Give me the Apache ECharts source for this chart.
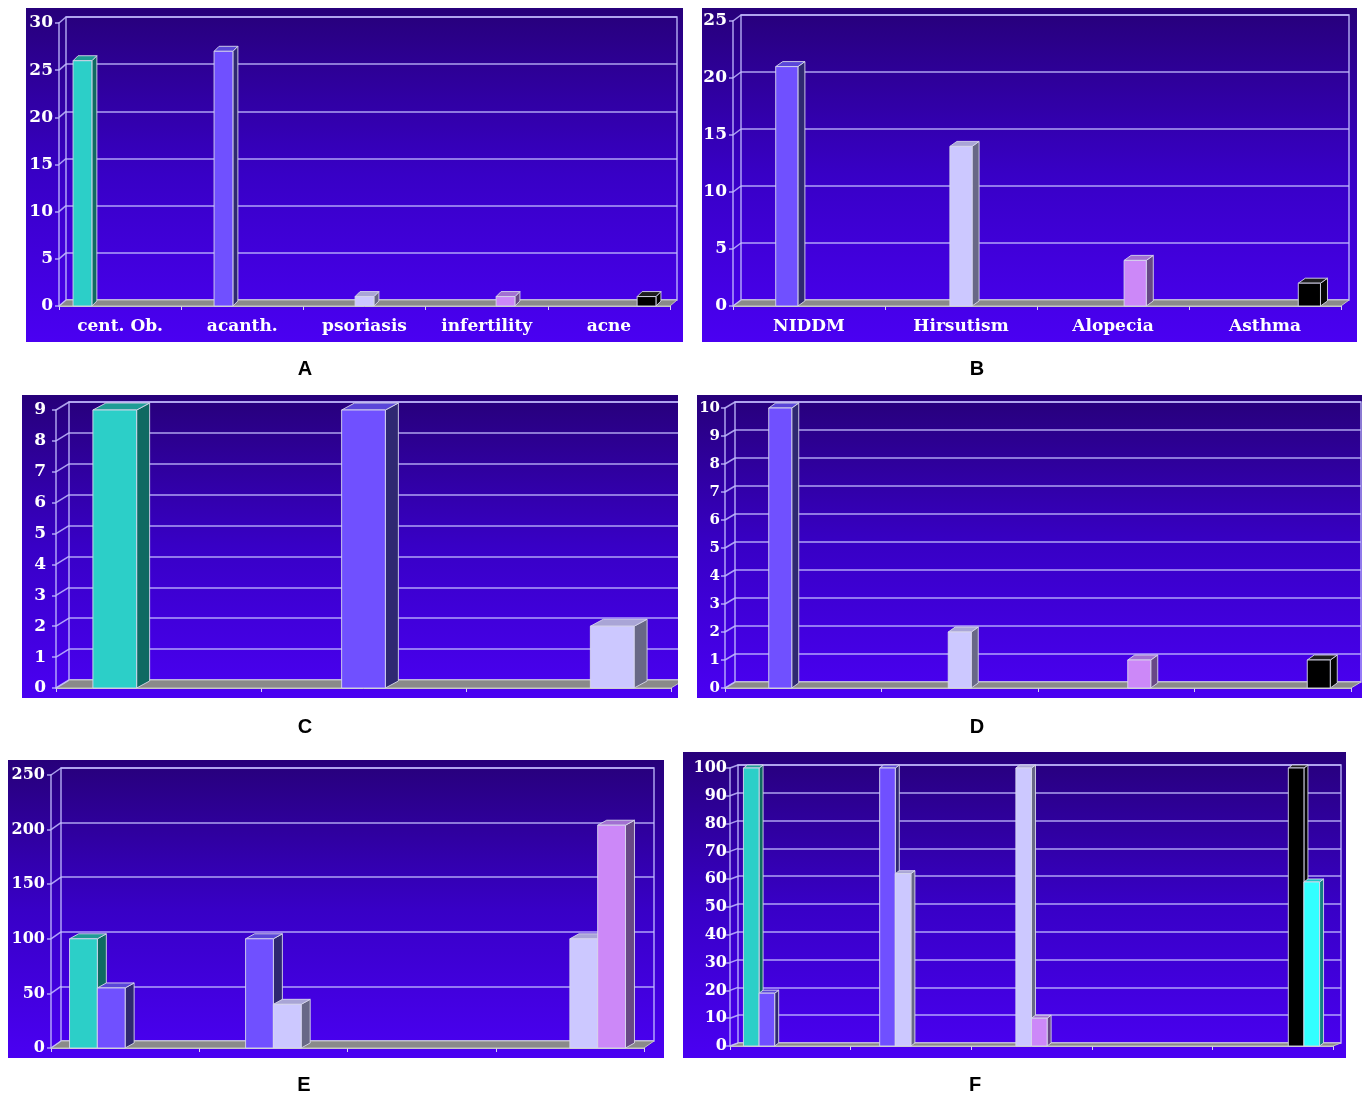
<!DOCTYPE html>
<html>
<head>
<meta charset="utf-8">
<style>
  html, body { margin: 0; padding: 0; background: #ffffff; }
  #chart { width: 1367px; height: 1098px; }
</style>
<script src="https://cdn.jsdelivr.net/npm/echarts@6/dist/echarts.min.js"></script>
</head>
<body>
<div id="chart"></div>
<script>
// ---------------- DATA ----------------
// Panel A
const catsA = ['cent. Ob.', 'acanth.', 'psoriasis', 'infertility', 'acne'];
const ticksA = [0, 5, 10, 15, 20, 25, 30];
const A_cyan     = [26, null, null, null, null];
const A_violet   = [null, 27, null, null, null];
const A_lavender = [null, null, 1, null, null];
const A_pink     = [null, null, null, 1, null];
const A_black    = [null, null, null, null, 1];

// Panel B
const catsB = ['NIDDM', 'Hirsutism', 'Alopecia', 'Asthma'];
const ticksB = [0, 5, 10, 15, 20, 25];
const B_cyan     = [null, null, null, null];
const B_violet   = [21, null, null, null];
const B_lavender = [null, 14, null, null];
const B_pink     = [null, null, 4, null];
const B_black    = [null, null, null, 2];

// Panel C
const catsC = ['', '', ''];
const ticksC = [0, 1, 2, 3, 4, 5, 6, 7, 8, 9];
const C_cyan     = [9, null, null];
const C_violet   = [null, 9, null];
const C_lavender = [null, null, 2];

// Panel D
const catsD = ['', '', '', ''];
const ticksD = [0, 1, 2, 3, 4, 5, 6, 7, 8, 9, 10];
const D_cyan     = [null, null, null, null];
const D_violet   = [10, null, null, null];
const D_lavender = [null, 2, null, null];
const D_pink     = [null, null, 1, null];
const D_black    = [null, null, null, 1];

// Panel E
const catsE = ['', '', '', ''];
const ticksE = [0, 50, 100, 150, 200, 250];
const E_cyan     = [100, null, null, null];
const E_violet   = [55, 100, null, null];
const E_lavender = [null, 40, null, 100];
const E_pink     = [null, null, null, 204];

// Panel F
const catsF = ['', '', '', '', ''];
const ticksF = [0, 10, 20, 30, 40, 50, 60, 70, 80, 90, 100];
const F_cyan     = [100, null, null, null, null];
const F_violet   = [19, 100, null, null, null];
const F_lavender = [null, 62, 100, null, null];
const F_pink     = [null, null, 10, null, null];
const F_black    = [null, null, null, null, 100];
const F_aqua     = [null, null, null, null, 59];

// ---------------- STYLE ----------------
const palette = {
  cyan:     { front: '#2ccfc8', side: '#0f6a62', top: '#1f9c95' },
  violet:   { front: '#7050ff', side: '#2f2872', top: '#5a46d8' },
  lavender: { front: '#ccc8ff', side: '#686886', top: '#a9a5d6' },
  pink:     { front: '#cc88f8', side: '#684886', top: '#a270d2' },
  black:    { front: '#000000', side: '#050505', top: '#1e1e1e' },
  aqua:     { front: '#32ffff', side: '#138282', top: '#22c4c4' }
};
const gridColor = 'rgba(196,190,255,0.85)';
const edgeColor = 'rgba(215,215,235,0.9)';
const labelFont = 'DejaVu Serif';

const panels = [
  { letter: 'A', cats: catsA, ticks: ticksA,
    series: [[A_cyan, 'cyan'], [A_violet, 'violet'], [A_lavender, 'lavender'], [A_pink, 'pink'], [A_black, 'black']],
    box: [26, 8, 657, 334], grid: [59, 23, 611, 283], depth: [7, -6], barDepth: [5, -5], gap: 0.23,
    ySize: 17, yMargin: 6, xLabels: true, letterPos: [305, 369] },
  { letter: 'B', cats: catsB, ticks: ticksB,
    series: [[B_cyan, 'cyan'], [B_violet, 'violet'], [B_lavender, 'lavender'], [B_pink, 'pink'], [B_black, 'black']],
    box: [702, 8, 655, 334], grid: [733, 21, 608, 285], depth: [8, -6], barDepth: [7, -5], gap: 0.27,
    ySize: 17, yMargin: 6, xLabels: true, letterPos: [977, 369] },
  { letter: 'C', cats: catsC, ticks: ticksC,
    series: [[C_cyan, 'cyan'], [C_violet, 'violet'], [C_lavender, 'lavender']],
    box: [22, 395, 656, 303], grid: [56, 410, 615, 278], depth: [13, -8], barDepth: [13, -7], gap: 0.36,
    ySize: 17, yMargin: 10, xLabels: false, letterPos: [305, 727], mask: [678, 390, 18, 312] },
  { letter: 'D', cats: catsD, ticks: ticksD,
    series: [[D_cyan, 'cyan'], [D_violet, 'violet'], [D_lavender, 'lavender'], [D_pink, 'pink'], [D_black, 'black']],
    box: [697, 395, 665, 303], grid: [725, 408, 626, 280], depth: [10, -6], barDepth: [7, -5], gap: 0.265,
    ySize: 15, yMargin: 5, xLabels: false, letterPos: [977, 727] },
  { letter: 'E', cats: catsE, ticks: ticksE,
    series: [[E_cyan, 'cyan'], [E_violet, 'violet'], [E_lavender, 'lavender'], [E_pink, 'pink']],
    box: [8, 760, 656, 298], grid: [51, 775, 593, 273], depth: [10, -7], barDepth: [9, -5], gap: 0.25,
    ySize: 16, yMargin: 6, xLabels: false, letterPos: [304, 1085] },
  { letter: 'F', cats: catsF, ticks: ticksF,
    series: [[F_cyan, 'cyan'], [F_violet, 'violet'], [F_lavender, 'lavender'], [F_pink, 'pink'], [F_black, 'black'], [F_aqua, 'aqua']],
    box: [683, 752, 663, 306], grid: [730, 768, 603, 278], depth: [8, -3], barDepth: [4, -3], gap: 0.223,
    ySize: 16, yMargin: 3, xLabels: false, letterPos: [975, 1085] }
];

// ---------------- BUILD OPTION ----------------
const grids = [], xAxes = [], yAxes = [], seriesList = [], graphics = [];

panels.forEach((p, k) => {
  const fi = 2 * k, bi = 2 * k + 1;
  const [gl, gt, gw, gh] = p.grid;
  const [dx, dy] = p.depth;
  const yMin = p.ticks[0], yMax = p.ticks[p.ticks.length - 1], yInt = p.ticks[1] - p.ticks[0];

  // panel background
  graphics.push({
    type: 'rect', z: -10, silent: true,
    shape: { x: p.box[0], y: p.box[1], width: p.box[2], height: p.box[3] },
    style: { fill: new echarts.graphic.LinearGradient(0, 0, 0, 1, [
      { offset: 0, color: '#27007a' }, { offset: 0.5, color: '#3800c6' }, { offset: 1, color: '#4a00f2' }
    ]) }
  });
  if (p.mask) {
    graphics.push({ type: 'rect', z: 100, silent: true,
      shape: { x: p.mask[0], y: p.mask[1], width: p.mask[2], height: p.mask[3] },
      style: { fill: '#ffffff' } });
  }
  graphics.push({
    type: 'text', z: 100, silent: true, x: p.letterPos[0], y: p.letterPos[1],
    style: { text: p.letter, fill: '#000000', font: 'bold 20px "Liberation Sans", Arial, sans-serif',
             textAlign: 'center', textVerticalAlign: 'middle', verticalAlign: 'middle' }
  });

  // front grid and back (wall) grid
  grids.push({ left: gl, top: gt, width: gw, height: gh, containLabel: false });
  grids.push({ left: gl + dx, top: gt + dy, width: gw, height: gh, containLabel: false,
               show: true, borderColor: gridColor, borderWidth: 1.5, backgroundColor: 'transparent' });

  xAxes.push({
    gridIndex: fi, type: 'category', data: p.cats,
    axisLine: { show: true, lineStyle: { color: '#c8c8c8', width: 1 } },
    axisTick: { show: true, length: 4, lineStyle: { color: '#d4d0f4', width: 1 } },
    axisLabel: { show: p.xLabels, color: '#ffffff', fontFamily: labelFont, fontWeight: 'bold', fontSize: 17, margin: 12 },
    splitLine: { show: false }
  });
  xAxes.push({ gridIndex: bi, type: 'category', data: p.cats, show: false });

  yAxes.push({
    gridIndex: fi, type: 'value', min: yMin, max: yMax, interval: yInt,
    axisLine: { show: true, lineStyle: { color: gridColor, width: 1.5 } },
    axisTick: { show: true, length: 4, lineStyle: { color: gridColor, width: 1.5 } },
    axisLabel: { color: '#ffffff', fontFamily: labelFont, fontWeight: 'bold', fontSize: p.ySize, margin: p.yMargin },
    splitLine: { show: false }
  });
  yAxes.push({
    gridIndex: bi, type: 'value', min: yMin, max: yMax, interval: yInt,
    axisLine: { show: false }, axisTick: { show: false }, axisLabel: { show: false },
    splitLine: { show: true, lineStyle: { color: gridColor, width: 1.5 } }
  });

  // floor of the 3D box
  seriesList.push({
    type: 'custom', xAxisIndex: fi, yAxisIndex: fi, z: 2, silent: true,
    data: [[0, yMin]],
    renderItem: (params, api) => {
      const cs = params.coordSys;
      const y0 = api.coord([0, yMin])[1];
      const x0 = cs.x, x1 = cs.x + cs.width;
      return { type: 'polygon',
        shape: { points: [[x0, y0], [x1, y0], [x1 + dx, y0 + dy], [x0 + dx, y0 + dy]] },
        style: { fill: '#8a8a8a', stroke: '#c4c4c4', lineWidth: 1 } };
    }
  });

  // left side wall lines (front tick to back wall)
  seriesList.push({
    type: 'custom', xAxisIndex: fi, yAxisIndex: fi, z: 2, silent: true,
    data: p.ticks.map(t => [0, t]),
    renderItem: (params, api) => {
      const cs = params.coordSys;
      const y = api.coord([0, api.value(1)])[1];
      return { type: 'line',
        shape: { x1: cs.x, y1: y, x2: cs.x + dx, y2: y + dy },
        style: { stroke: gridColor, lineWidth: 1.5 } };
    }
  });

  // 3D bars
  const nSlots = p.series.length;
  p.series.forEach(([vals, colorKey], slot) => {
    const c = palette[colorKey];
    const [bdx, bdy] = p.barDepth;
    const data = vals.map((v, i) => [i, v]).filter(d => d[1] != null);
    if (!data.length) return;
    seriesList.push({
      type: 'custom', xAxisIndex: fi, yAxisIndex: fi, z: 3 + slot * 0.01, silent: true,
      encode: { x: 0, y: 1 },
      data: data,
      renderItem: (params, api) => {
        const ci = api.value(0), v = api.value(1);
        const base = api.coord([ci, 0]);
        const top = api.coord([ci, v]);
        const catW = api.size([1, 0])[0];
        const barW = catW * (1 - p.gap) / nSlots;
        const x = base[0] - catW / 2 + catW * p.gap / 2 + slot * barW;
        const yb = base[1], yt = top[1];
        return { type: 'group', children: [
          { type: 'polygon',
            shape: { points: [[x + barW, yt], [x + barW + bdx, yt + bdy], [x + barW + bdx, yb + bdy], [x + barW, yb]] },
            style: { fill: c.side, stroke: edgeColor, lineWidth: 1 } },
          { type: 'polygon',
            shape: { points: [[x, yt], [x + bdx, yt + bdy], [x + barW + bdx, yt + bdy], [x + barW, yt]] },
            style: { fill: c.top, stroke: edgeColor, lineWidth: 1 } },
          { type: 'rect',
            shape: { x: x, y: yt, width: barW, height: yb - yt },
            style: { fill: c.front, stroke: edgeColor, lineWidth: 1 } }
        ] };
      }
    });
  });
});

const chart = echarts.init(document.getElementById('chart'), null, { renderer: 'canvas' });
chart.setOption({
  animation: false,
  backgroundColor: '#ffffff',
  grid: grids,
  xAxis: xAxes,
  yAxis: yAxes,
  series: seriesList,
  graphic: { elements: graphics }
});
</script>
</body>
</html>
